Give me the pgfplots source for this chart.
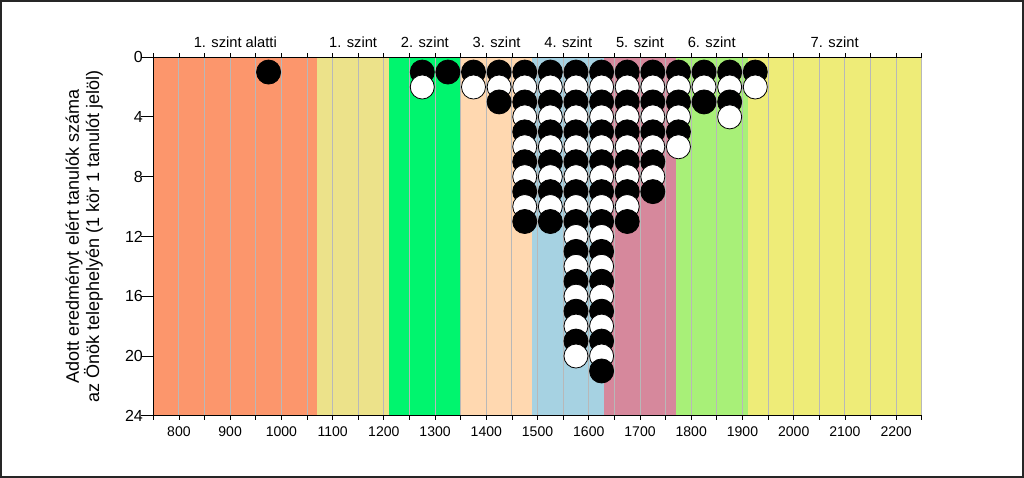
\documentclass[border=0pt]{standalone}
\usepackage{fontspec}
\setmainfont{Liberation Sans}
\usepackage{pgfplots}
\usepackage{pgfplotstable}
\pgfplotsset{compat=1.18}

\definecolor{lv0}{RGB}{252,150,108}
\definecolor{lv1}{RGB}{236,226,138}
\definecolor{lv2}{RGB}{0,245,110}
\definecolor{lv3}{RGB}{255,216,176}
\definecolor{lv4}{RGB}{166,210,226}
\definecolor{lv5}{RGB}{214,136,156}
\definecolor{lv6}{RGB}{168,240,120}
\definecolor{lv7}{RGB}{238,236,120}

% one row per student: score bin, stack position, colour class (b/w alternate)
\pgfplotstableread[row sep=\\]{
x y c\\
975 1 b\\ 1275 1 b\\ 1325 1 b\\ 1375 1 b\\ 1425 1 b\\ 1475 1 b\\ 1525 1 b\\ 1575 1 b\\
1625 1 b\\ 1675 1 b\\ 1725 1 b\\ 1775 1 b\\ 1825 1 b\\ 1875 1 b\\ 1925 1 b\\
1275 2 w\\ 1375 2 w\\ 1425 2 w\\ 1475 2 w\\ 1525 2 w\\ 1575 2 w\\ 1625 2 w\\
1675 2 w\\ 1725 2 w\\ 1775 2 w\\ 1825 2 w\\ 1875 2 w\\ 1925 2 w\\
1425 3 b\\ 1475 3 b\\ 1525 3 b\\ 1575 3 b\\ 1625 3 b\\ 1675 3 b\\ 1725 3 b\\
1775 3 b\\ 1825 3 b\\ 1875 3 b\\
1475 4 w\\ 1525 4 w\\ 1575 4 w\\ 1625 4 w\\ 1675 4 w\\ 1725 4 w\\ 1775 4 w\\ 1875 4 w\\
1475 5 b\\ 1525 5 b\\ 1575 5 b\\ 1625 5 b\\ 1675 5 b\\ 1725 5 b\\ 1775 5 b\\
1475 6 w\\ 1525 6 w\\ 1575 6 w\\ 1625 6 w\\ 1675 6 w\\ 1725 6 w\\ 1775 6 w\\
1475 7 b\\ 1525 7 b\\ 1575 7 b\\ 1625 7 b\\ 1675 7 b\\ 1725 7 b\\
1475 8 w\\ 1525 8 w\\ 1575 8 w\\ 1625 8 w\\ 1675 8 w\\ 1725 8 w\\
1475 9 b\\ 1525 9 b\\ 1575 9 b\\ 1625 9 b\\ 1675 9 b\\ 1725 9 b\\
1475 10 w\\ 1525 10 w\\ 1575 10 w\\ 1625 10 w\\ 1675 10 w\\
1475 11 b\\ 1525 11 b\\ 1575 11 b\\ 1625 11 b\\ 1675 11 b\\
1575 12 w\\ 1625 12 w\\ 1575 13 b\\ 1625 13 b\\ 1575 14 w\\ 1625 14 w\\
1575 15 b\\ 1625 15 b\\ 1575 16 w\\ 1625 16 w\\ 1575 17 b\\ 1625 17 b\\
1575 18 w\\ 1625 18 w\\ 1575 19 b\\ 1625 19 b\\ 1575 20 w\\ 1625 20 w\\
1625 21 b\\
}\students

\begin{document}
\begin{tikzpicture}
\begin{axis}[
  set layers,
  scale only axis, width=575.25pt, height=268.5pt,
  xmin=750, xmax=2250, ymin=0, ymax=24, y dir=reverse,
  axis x line=box, axis y line=left, axis line style={-, line width=0.6pt},
  tick align=outside,
  xtick={750,800,...,2250},
  xticklabels={,800,,900,,1000,,1100,,1200,,1300,,1400,,1500,,1600,,1700,,1800,,1900,,2000,,2100,,2200,},
  xtick style={black, line width=0.6pt, /pgfplots/major tick length=3pt},
  ytick={0,4,...,24},
  ytick style={black, line width=0.6pt, /pgfplots/major tick length=9pt},
  /pgf/number format/assume math mode=true,
  xticklabel style={font=\fontsize{10.5}{12}\selectfont},
  yticklabel style={font=\fontsize{12}{14}\selectfont},
  xmajorgrids, major grid style={color=black!28, line width=0.7pt},
  clip=false,
]
\addplot[fill=lv0, draw=none, on layer=axis background] coordinates {(750,0)(750,24)(1070,24)(1070,0)} -- cycle;
\addplot[fill=lv1, draw=none, on layer=axis background] coordinates {(1070,0)(1070,24)(1210,24)(1210,0)} -- cycle;
\addplot[fill=lv2, draw=none, on layer=axis background] coordinates {(1210,0)(1210,24)(1350,24)(1350,0)} -- cycle;
\addplot[fill=lv3, draw=none, on layer=axis background] coordinates {(1350,0)(1350,24)(1490,24)(1490,0)} -- cycle;
\addplot[fill=lv4, draw=none, on layer=axis background] coordinates {(1490,0)(1490,24)(1630,24)(1630,0)} -- cycle;
\addplot[fill=lv5, draw=none, on layer=axis background] coordinates {(1630,0)(1630,24)(1770,24)(1770,0)} -- cycle;
\addplot[fill=lv6, draw=none, on layer=axis background] coordinates {(1770,0)(1770,24)(1910,24)(1910,0)} -- cycle;
\addplot[fill=lv7, draw=none, on layer=axis background] coordinates {(1910,0)(1910,24)(2250,24)(2250,0)} -- cycle;

\addplot[scatter, only marks, scatter src=explicit symbolic, mark size=9pt,
  scatter/classes={b={mark=*, draw=black, fill=black}, w={mark=*, draw=black, fill=white}},
  line width=0.6pt] table[x=x, y=y, meta=c] {\students};

\foreach \xc/\lab in {910/1. szint alatti, 1140/1. szint, 1280/2. szint, 1420/3. szint,
                      1560/4. szint, 1700/5. szint, 1840/6. szint, 2080/7. szint}{
  \edef\temp{\noexpand\node[anchor=base, font=\noexpand\fontsize{11}{13}\noexpand\selectfont, yshift=7pt] at (axis cs:\xc,0) {\lab};}
  \temp
}
\end{axis}
\node[rotate=90, align=center, font=\fontsize{13.5}{12.5}\selectfont]
  at ([xshift=-51.75pt, yshift=0pt]current axis.west)
  {Adott eredményt elért tanulók száma\\az Önök telephelyén (1 kör 1 tanulót jelöl)};
\draw[line width=1.5pt, black!85] ([shift={(-114pt,-45.75pt)}]current axis.south west)
  rectangle ([shift={(651pt,310.5pt)}]current axis.south west);
\end{tikzpicture}
\end{document}
